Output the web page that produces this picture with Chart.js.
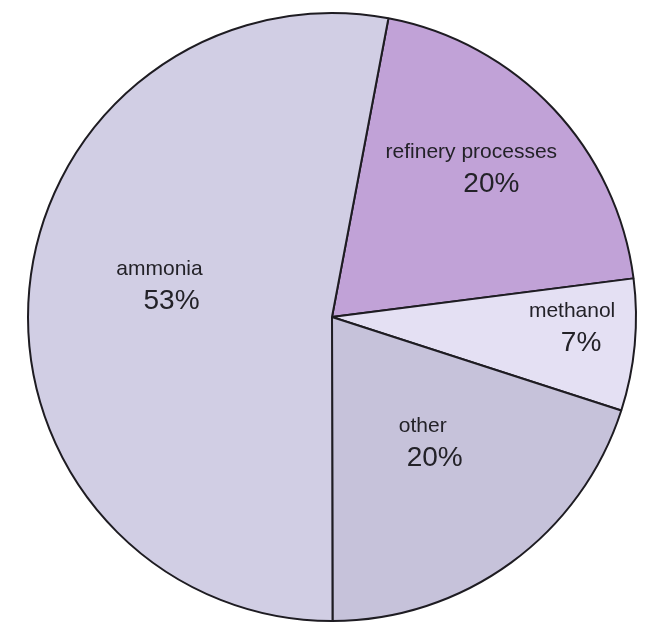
<!DOCTYPE html>
<html>
<head>
<meta charset="utf-8">
<script src="https://cdn.jsdelivr.net/npm/chart.js@4"></script>
<style>
  html, body { margin: 0; padding: 0; background: #fff; }
  #wrap { width: 647px; height: 624px; }
</style>
</head>
<body>
<div id="wrap"><canvas id="pieChart"></canvas></div>
<script>
// data (clockwise from the top)
const categories = ["refinery processes", "methanol", "other", "ammonia"];
const shares = [20, 7, 20, 53];
const sliceColors = ["#c1a2d7", "#e4e0f3", "#c6c2da", "#d1cee4"];

// label placement: fraction of radius along the slice mid-angle, extra shift, name/percent spread
const labelPlace = [
  { f: 0.675, dx: 0, dy: -8, spread: 10 },
  { f: 0.808, dx: 0, dy: -12, spread: 4.5 },
  { f: 0.54, dx: 0, dy: -7, spread: 6 },
  { f: 0.55, dx: 0, dy: -16, spread: 6 }
];

const sliceLabels = {
  id: "sliceLabels",
  afterDatasetsDraw(chart) {
    const c = chart.ctx;
    const meta = chart.getDatasetMeta(0);
    c.save();
    c.fillStyle = "#232228";
    c.textAlign = "center";
    c.textBaseline = "middle";
    meta.data.forEach((arc, i) => {
      const p = arc.getProps(["x", "y", "startAngle", "endAngle", "outerRadius"], true);
      const mid = (p.startAngle + p.endAngle) / 2;
      const lp = labelPlace[i];
      const r = p.outerRadius * lp.f;
      const ax = p.x + Math.cos(mid) * r + lp.dx;
      const ay = p.y + Math.sin(mid) * r + lp.dy;
      c.font = "21px 'Liberation Sans', Arial, sans-serif";
      c.fillText(categories[i], ax - lp.spread, ay - 16);
      c.font = "28px 'Liberation Sans', Arial, sans-serif";
      c.fillText(shares[i] + "%", ax + lp.spread, ay + 16);
    });
    c.restore();
  }
};

new Chart(document.getElementById("pieChart"), {
  type: "pie",
  data: {
    labels: categories,
    datasets: [{
      data: shares,
      backgroundColor: sliceColors,
      borderColor: "#1e1c22",
      borderWidth: 2
    }]
  },
  options: {
    responsive: true,
    maintainAspectRatio: false,
    animation: false,
    rotation: 10.7,
    layout: { padding: { left: 27, right: 10, top: 12, bottom: 2 } },
    plugins: {
      legend: { display: false },
      tooltip: { enabled: false }
    }
  },
  plugins: [sliceLabels]
});
</script>
</body>
</html>
